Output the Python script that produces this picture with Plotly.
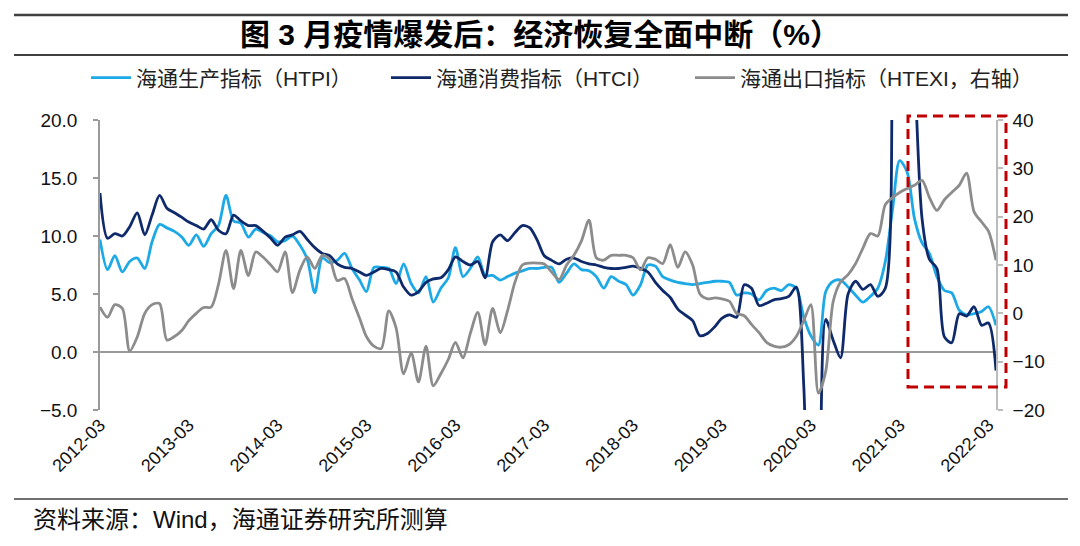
import pandas as pd
import plotly.graph_objects as go

# Monthly observations, 2012-03 .. 2022-04
months = pd.date_range("2012-03-01", periods=122, freq="MS")

htpi = [9.7, 7.1, 8.3, 6.9, 7.8, 8.1, 7.2, 9.5, 11.0, 10.7,
        10.4, 9.9, 9.2, 10.1, 9.1, 10.2, 10.9, 13.5, 11.3, 11.1,
        9.9, 10.6, 10.3, 10.0, 9.5, 9.6, 10.0, 9.2, 8.0, 5.1,
        8.1, 7.7, 7.9, 8.5, 7.2, 6.2, 5.2, 7.3, 7.3, 7.2,
        5.9, 7.6, 5.9, 5.1, 6.5, 4.3, 5.5, 6.4, 9.0, 6.5,
        7.2, 8.2, 6.6, 6.6, 6.2, 6.5, 6.8, 7.0, 7.2, 7.2,
        7.3, 7.3, 6.0, 6.8, 7.6, 7.1, 7.0, 6.5, 5.5, 6.5,
        6.1, 5.8, 4.9, 5.8, 7.5, 7.4, 6.5, 6.2, 6.0, 5.9,
        5.8, 5.9, 6.0, 6.1, 6.1, 6.0, 4.9, 5.1, 5.0, 4.5,
        5.3, 5.5, 5.3, 5.8, 5.5, 3.0, 1.4, 0.6, 5.2, 6.1,
        6.2, 5.6, 4.9, 4.3, 4.8, 5.5, 7.8, 12.5, 16.5, 15.5,
        11.5, 9.4, 8.5, 6.5, 5.3, 5.1, 3.6, 3.2, 3.3, 3.5,
        3.9, 2.3]

htci = [13.7, 9.8, 10.2, 10.0, 10.8, 12.0, 10.1, 11.8, 13.5, 12.4,
        12.0, 11.6, 11.2, 10.9, 10.6, 11.4, 10.5, 10.2, 11.8, 11.3,
        10.9, 10.9, 10.4, 9.8, 9.2, 9.9, 10.1, 10.4, 9.7, 9.0,
        8.5, 8.3, 7.6, 7.3, 7.2, 6.9, 6.6, 6.9, 7.2, 7.1,
        6.9, 5.6, 4.9, 5.2, 6.0, 6.3, 6.4, 7.1, 8.2, 7.8,
        7.5, 7.8, 6.4, 9.5, 10.1, 9.6, 10.3, 10.9, 10.7, 9.6,
        8.3, 7.9, 7.6, 8.0, 8.1, 7.8, 7.6, 7.5, 7.3, 7.2,
        7.2, 7.3, 7.4, 7.2, 6.9, 6.0, 5.3, 4.7, 3.7, 3.2,
        2.7, 1.4, 1.6, 2.2, 2.9, 3.2, 3.0, 5.8, 5.5, 4.0,
        4.2, 4.5, 4.6, 4.8, 5.6, -3.0, -25.0, -18.0, 2.8, 1.0,
        -0.5, 5.0, 6.1, 5.4, 5.8, 4.8, 5.5, 32.0, 45.0, 40.0,
        25.0, 11.5, 8.0, 7.2, 1.3, 0.8, 3.3, 3.1, 3.9, 2.3,
        2.5, -1.6]

htexi = [1.3, -0.8, 1.8, 1.0, -7.8, -4.9, 0.0, 1.8, 2.0, -5.5,
         -4.8, -3.5, -1.5, 0.0, 1.2, 1.3, 6.0, 13.0, 5.1, 13.0,
         7.8, 12.7, 11.6, 10.0, 8.6, 12.7, 4.3, 9.0, 11.7, 9.3,
         12.0, 11.2, 6.8, 7.2, 3.0, -1.0, -4.8, -6.8, -7.3, 0.5,
         -3.0, -12.5, -8.2, -14.2, -6.8, -15.0, -12.5, -9.5, -6.0, -9.2,
         -4.2, 0.2, -6.5, 1.0, -4.0, 0.5, 6.5, 10.0, 10.4, 10.4,
         10.2, 8.5, 7.0, 10.0, 12.0, 15.0, 19.3, 11.5, 11.0, 12.0,
         12.0, 12.0, 11.5, 9.0, 11.5, 11.2, 10.3, 14.2, 9.5, 12.7,
         10.0, 4.0, 3.0, 3.2, 3.0, 2.5, 0.0, -0.5, -2.3, -4.0,
         -6.0, -6.8, -7.0, -6.5, -4.8, -1.5, 1.8, -16.5, -12.0, 2.5,
         6.5, 8.0, 10.3, 13.5, 16.5, 16.0, 22.5, 24.0, 25.0, 25.8,
         26.5, 27.5, 24.0, 21.3, 23.5, 25.0, 26.5, 29.0, 21.0, 18.9,
         17.0, 11.0]

tick_dates = pd.date_range("2012-03-01", "2022-03-01", freq="12MS")
tick_labels = [d.strftime("%Y-%m") for d in tick_dates]

names = ["海通生产指标（HTPI）", "海通消费指标（HTCI）", "海通出口指标（HTEXI，右轴）"]
colors = ["#1CA9E6", "#0E2A6B", "#8C8C8C"]

fig = go.Figure()
fig.add_trace(go.Scatter(x=months, y=htpi, name=names[0], mode="lines", legend="legend",
                         line=dict(color=colors[0], width=2.8, shape="spline", smoothing=0.8)))
fig.add_trace(go.Scatter(x=months, y=htci, name=names[1], mode="lines", legend="legend2",
                         line=dict(color=colors[1], width=2.8, shape="spline", smoothing=0.8)))
fig.add_trace(go.Scatter(x=months, y=htexi, name=names[2], mode="lines", yaxis="y2", legend="legend3",
                         line=dict(color=colors[2], width=2.8, shape="spline", smoothing=0.8)))

W, H = 1080, 546
L, R, T, B = 100, 84, 120, 136
pw, ph = W - L - R, H - T - B

def px(x):
    return (x - L) / pw

def py(y):
    return (H - B - y) / ph

def leg(xpix):
    return dict(orientation="h", x=px(xpix), xanchor="left", y=py(78), yanchor="middle",
                font=dict(size=21, color="#222222"), bgcolor="rgba(0,0,0,0)",
                itemwidth=40)

fig.update_layout(
    width=W, height=H,
    margin=dict(l=L, r=R, t=T, b=B, autoexpand=False),
    paper_bgcolor="white", plot_bgcolor="white",
    font=dict(family="Liberation Sans, Arial, Noto Sans CJK SC", color="#111111", size=18),
    title=dict(text="<b>图 3 月疫情爆发后：经济恢复全面中断（%）</b>",
               x=0.5, xref="container", xanchor="center",
               y=1 - 34 / H, yref="container", yanchor="middle",
               font=dict(size=30, color="#000000",
                         family="Liberation Sans, Arial, Noto Sans CJK SC")),
    showlegend=True,
    legend=leg(86), legend2=leg(386), legend3=leg(690),
    xaxis=dict(type="date", range=[months[0], months[-1]],
               tickvals=tick_dates, ticktext=tick_labels, tickangle=-45,
               showline=False, showgrid=False, zeroline=False, ticks="",
               tickfont=dict(size=18, color="#111111")),
    yaxis=dict(range=[-5, 20], dtick=5, tickformat=".1f", showgrid=False,
               showline=True, linecolor="#9A9A9A", linewidth=1.5,
               ticks="outside", ticklen=5, tickcolor="#9A9A9A", tickwidth=1.5,
               ticklabelstandoff=12,
               zeroline=True, zerolinecolor="#9A9A9A", zerolinewidth=2,
               tickfont=dict(size=19, color="#111111")),
    yaxis2=dict(range=[-20, 40], dtick=10, overlaying="y", side="right",
                showgrid=False, zeroline=False,
                showline=True, linecolor="#BBBBBB", linewidth=1.5,
                ticks="outside", ticklen=5, tickcolor="#BBBBBB", tickwidth=1.5,
                ticklabelstandoff=6,
                tickfont=dict(size=19, color="#111111")),
)

# Decorative rules (title band and source line)
rules = [(15, 2.5), (55, 2), (499, 1.5)]
for y, w in rules:
    fig.add_shape(type="line", xref="paper", yref="paper",
                  x0=px(14), x1=px(1068), y0=py(y), y1=py(y),
                  line=dict(color="#404040", width=w))

# Highlight box around the post-March period
fig.add_shape(type="rect", xref="paper", yref="paper",
              x0=px(908), x1=px(1006), y0=py(387), y1=py(116),
              line=dict(color="#C00000", width=3, dash="10px,6px"),
              fillcolor="rgba(0,0,0,0)")

fig.add_annotation(text="资料来源：Wind，海通证券研究所测算",
                   xref="paper", yref="paper", x=px(31), y=py(519),
                   xanchor="left", yanchor="middle", showarrow=False,
                   font=dict(size=24, color="#111111"))

fig.write_html("out.html", config={"displayModeBar": False},
               post_script="document.body.style.margin='0px';")
